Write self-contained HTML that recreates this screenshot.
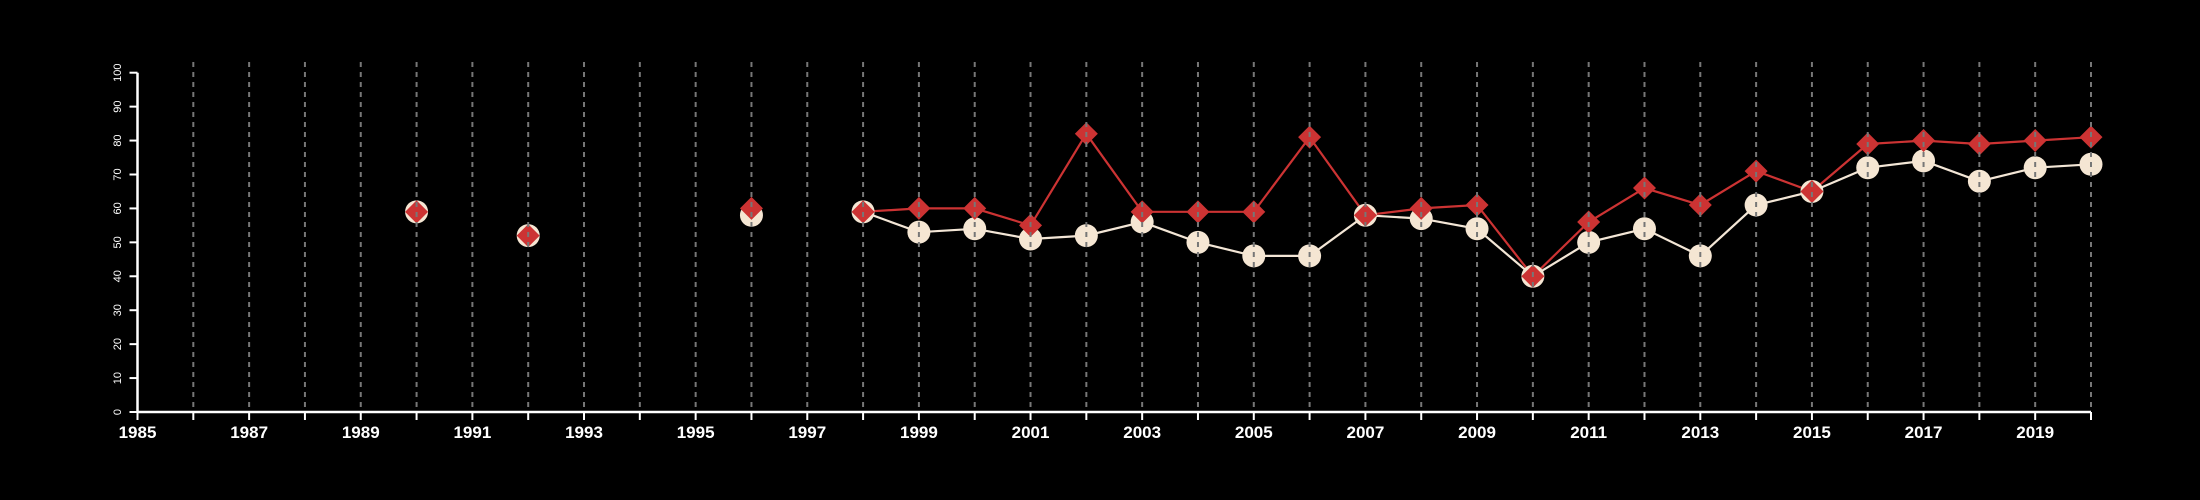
<!DOCTYPE html>
<html><head><meta charset="utf-8"><style>
html,body{margin:0;padding:0;background:#000;}
svg{display:block;}
</style></head><body>
<svg id="chart" width="2200" height="500" xmlns="http://www.w3.org/2000/svg" font-family="Liberation Sans, sans-serif">
<rect width="2200" height="500" fill="#000"/>
<g id="markers"></g>
<g id="grid"></g>
<g id="axes"></g>
</svg>
<script>
const years = [1990,1992,1996,1998,1999,2000,2001,2002,2003,2004,2005,2006,2007,2008,2009,2010,2011,2012,2013,2014,2015,2016,2017,2018,2019,2020];
const seriesA = [59,52,58,59,53,54,51,52,56,50,46,46,58,57,54,40,50,54,46,61,65,72,74,68,72,73];
const seriesB = [59,52,60,59,60,60,55,82,59,59,59,81,58,60,61,40,56,66,61,71,65,79,80,79,80,81];
const yTicks = [0,10,20,30,40,50,60,70,80,90,100];
const xLabelYears = [1985,1987,1989,1991,1993,1995,1997,1999,2001,2003,2005,2007,2009,2011,2013,2015,2017,2019];

const NS='http://www.w3.org/2000/svg';
const x0=137.5, x1=2091, yMin=1985, yMax=2020;
const py0=412, py1=72.7;
function xs(v){return x0+(v-yMin)/(yMax-yMin)*(x1-x0);}
function ys(v){return py0+(v/100)*(py1-py0);}
function mk(tag,attrs,parent){const e=document.createElementNS(NS,tag);for(const k in attrs)e.setAttribute(k,attrs[k]);parent.appendChild(e);return e;}
const gM=document.getElementById('markers'),gG=document.getElementById('grid'),gA=document.getElementById('axes');

function drawLine(vals,color,w,name){
  let d='';
  for(let i=0;i<years.length;i++){
    const cont=i>0&&years[i]-years[i-1]===1;
    d+=(cont?'L':'M')+xs(years[i]).toFixed(1)+' '+ys(vals[i]).toFixed(1)+' ';
  }
  const p=mk('path',{d:d,fill:'none',stroke:color,'stroke-width':w},gM);
  
  
}
drawLine(seriesA,'#f3e6d6',2.2,'series-a-line');
drawLine(seriesB,'#cc3333',2.2,'series-b-line');
for(let i=0;i<years.length;i++){
  const c=mk('circle',{cx:xs(years[i]),cy:ys(seriesA[i]),r:11.5,fill:'#f5e6d3'},gM);
  
  
}
for(let i=0;i<years.length;i++){
  const cx=xs(years[i]),cy=ys(seriesB[i]),h=11.5;
  const p=mk('polygon',{points:`${cx},${cy-h} ${cx+h},${cy} ${cx},${cy+h} ${cx-h},${cy}`,fill:'#cc3333'},gM);
  
  
}
for(let yr=1986;yr<=2020;yr++){
  const l=mk('line',{x1:xs(yr),x2:xs(yr),y1:62,y2:py0,stroke:'#777','stroke-width':2,'stroke-dasharray':'5 5'},gG);
  
  
}
const xa=mk('line',{x1:x0,x2:x1,y1:py0,y2:py0,stroke:'#fff','stroke-width':2.5},gA);


for(let yr=1985;yr<=2020;yr++){
  const t=mk('line',{x1:xs(yr),x2:xs(yr),y1:py0,y2:py0+8,stroke:'#fff','stroke-width':2},gA);
  
  
}
xLabelYears.forEach(yr=>{
  const t=mk('text',{x:xs(yr),y:438,'text-anchor':'middle',fill:'#fff','font-size':17,'font-weight':'bold'},gA);
  t.textContent=yr;
  
  
});
const ya=mk('line',{x1:x0,x2:x0,y1:py0,y2:py1,stroke:'#fff','stroke-width':2.5},gA);


yTicks.forEach(v=>{
  const t=mk('line',{x1:x0-8,x2:x0,y1:ys(v),y2:ys(v),stroke:'#fff','stroke-width':2},gA);
  
  
  const tx=mk('text',{x:0,y:0,transform:`translate(121,${ys(v)}) rotate(-90)`,'text-anchor':'middle',fill:'#fff','font-size':11},gA);
  tx.textContent=v;
  
  
});
</script>
</body></html>
